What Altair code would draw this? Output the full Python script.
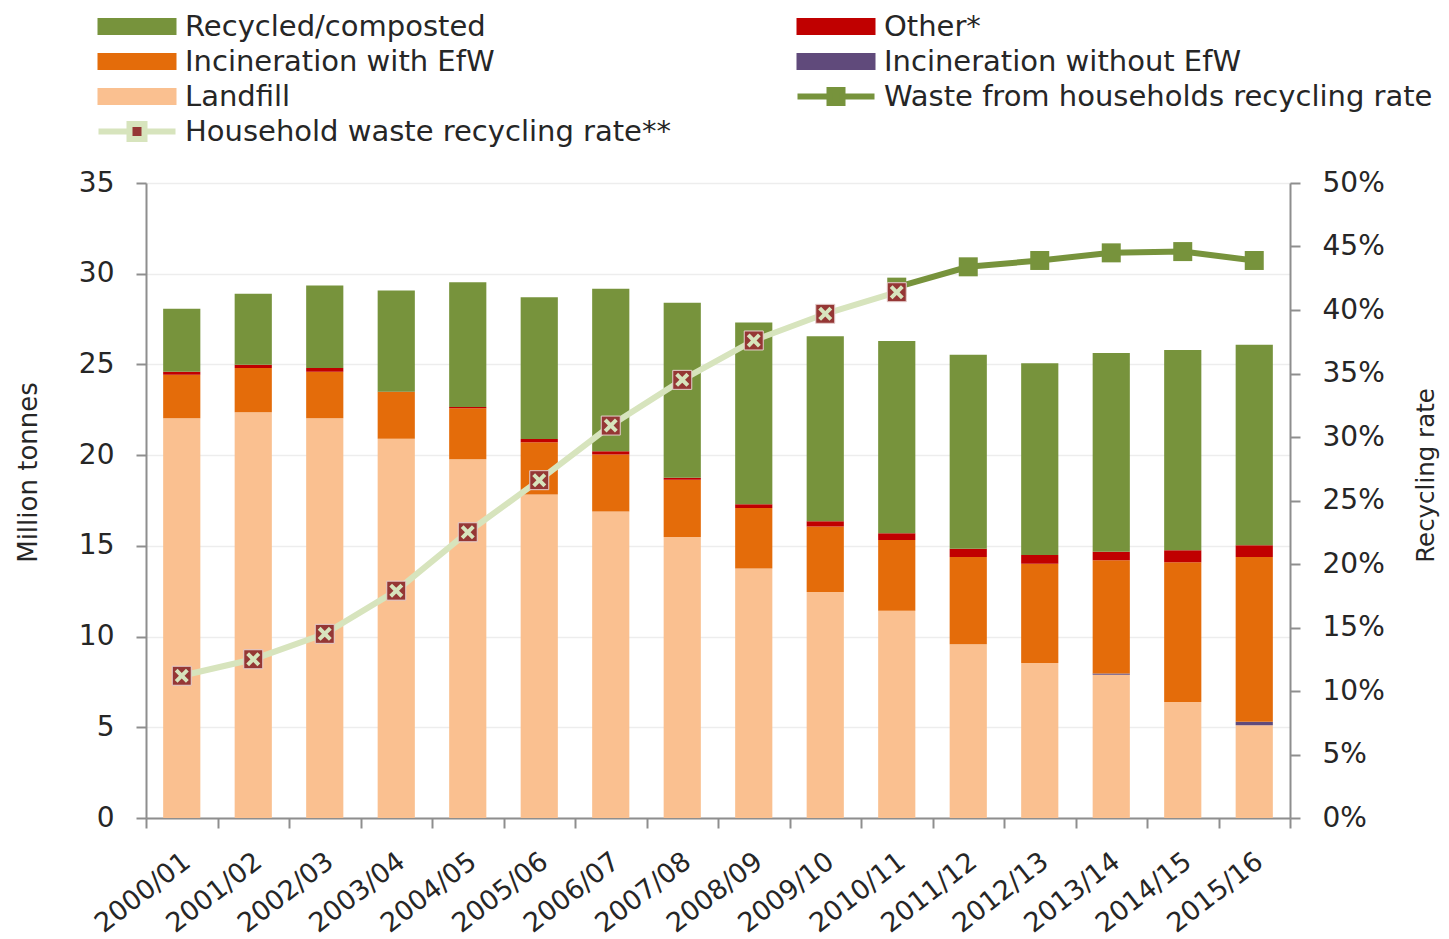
import altair as alt
import pandas as pd

# ---------------- data (million tonnes) ----------------
years = ["2000/01", "2001/02", "2002/03", "2003/04", "2004/05", "2005/06", "2006/07", "2007/08",
         "2008/09", "2009/10", "2010/11", "2011/12", "2012/13", "2013/14", "2014/15", "2015/16"]
landfill = [22.03, 22.36, 22.03, 20.90, 19.78, 17.83, 16.89, 15.49, 13.75, 12.46, 11.43, 9.57, 8.55, 7.89, 6.40, 5.11]
incin_without = [0, 0, 0, 0, 0, 0, 0, 0, 0, 0, 0, 0, 0, 0.08, 0, 0.19]
incin_efw = [2.40, 2.44, 2.57, 2.58, 2.80, 2.88, 3.15, 3.15, 3.33, 3.61, 3.89, 4.82, 5.47, 6.23, 7.70, 9.09]
other = [0.16, 0.18, 0.20, 0.02, 0.08, 0.18, 0.18, 0.12, 0.21, 0.29, 0.37, 0.45, 0.47, 0.48, 0.66, 0.64]
recycled = [3.48, 3.92, 4.55, 5.58, 6.87, 7.81, 8.95, 9.64, 10.02, 10.20, 10.60, 10.69, 10.58, 10.95, 11.04, 11.06]

# recycling rates (%)
hh_years = years[:11]
hh_rate = [11.2, 12.5, 14.5, 17.9, 22.5, 26.6, 30.9, 34.5, 37.6, 39.7, 41.4]
wfh_years = years[10:]
wfh_rate = [41.8, 43.4, 43.9, 44.5, 44.6, 43.9]

S_REC = "Recycled/composted"
S_OTH = "Other*"
S_EFW = "Incineration with EfW"
S_WO = "Incineration without EfW"
S_LAND = "Landfill"
S_WFH = "Waste from households recycling rate"
S_HH = "Household waste recycling rate**"

# legend entries, column by column
legend_order = [S_REC, S_EFW, S_LAND, S_HH, S_OTH, S_WO, S_WFH]
fill_colors = ["#77933C", "#E46C0A", "#FAC090", "#953735", "#C00000", "#604A7B", "#77933C"]
stroke_colors = ["transparent", "transparent", "transparent", "#D7E4BD", "transparent", "transparent", "#77933C"]

PATH_BAR = "M-1,-0.85H6.9V0.85H-1Z"
PATH_WFH = "M-0.9,0H2.3M3.6,0H6.8M2.3,-0.65H3.6V0.65H2.3Z"
PATH_HH = "M-0.9,0H2.2M3.7,0H6.8M2.2,-0.75H3.7V0.75H2.2Z"
shape_paths = [PATH_BAR, PATH_BAR, PATH_BAR, PATH_HH, PATH_BAR, PATH_BAR, PATH_WFH]

stack_series = [(S_LAND, landfill), (S_WO, incin_without), (S_EFW, incin_efw), (S_OTH, other), (S_REC, recycled)]
rows = []
for k, (name, vals) in enumerate(stack_series):
    for y, v in zip(years, vals):
        rows.append({"year": y, "series": name, "value": v, "ord": k})
bar_df = pd.DataFrame(rows)

hh_df = pd.DataFrame({"year": hh_years, "rate": [r / 100 for r in hh_rate], "series": S_HH})
wfh_df = pd.DataFrame({"year": wfh_years, "rate": [r / 100 for r in wfh_rate], "series": S_WFH})
rate_df = pd.concat([hh_df, wfh_df], ignore_index=True)

FONT = "DejaVu Sans"
TXT = "#262626"
AX = "#8E8E8E"

x_enc = alt.X("year:N", sort=years,
              scale=alt.Scale(paddingInner=0, paddingOuter=0),
              axis=alt.Axis(title=None, labelAngle=-38, labelAlign="right", labelBaseline="middle",
                            labelFont=FONT, labelFontSize=27, labelColor=TXT, labelPadding=30,
                            labelOffset=5, tickBand="extent", tickSize=10, tickColor=AX, tickWidth=2,
                            domainColor=AX, domainWidth=2, grid=False))
x_plain = alt.X("year:N", sort=years)

legend = alt.Legend(
    title=None, orient="none", legendX=-53, legendY=-171, columns=2,
    columnPadding=113, rowPadding=-10, padding=0,
    labelFont=FONT, labelFontSize=29, labelColor=TXT, labelLimit=1000,
    symbolSize=400, labelOffset=63, symbolStrokeWidth=6, symbolOpacity=1,
)

fill_scale = alt.Scale(domain=legend_order, range=fill_colors)
stroke_scale = alt.Scale(domain=legend_order, range=stroke_colors)
shape_scale = alt.Scale(domain=legend_order, range=shape_paths)

bars = alt.Chart(bar_df).mark_bar(width=alt.RelativeBandSize(0.52)).encode(
    x=x_enc,
    y=alt.Y("value:Q", stack="zero",
            scale=alt.Scale(domain=[0, 35], nice=False),
            axis=alt.Axis(title="Million tonnes", values=list(range(0, 40, 5)),
                          labelFont=FONT, labelFontSize=28, labelColor=TXT, labelPadding=22,
                          titleFont=FONT, titleFontSize=26, titleFontWeight="normal", titleColor=TXT,
                          titlePadding=37, titleY=289, tickSize=10, tickColor=AX, tickWidth=2,
                          domainColor=AX, domainWidth=2, grid=True, gridColor="#EDEDED", gridWidth=1.5)),
    fill=alt.Fill("series:N", scale=fill_scale, legend=legend),
    order=alt.Order("ord:Q", sort="ascending"),
)

y_rate = alt.Y("rate:Q", scale=alt.Scale(domain=[0, 0.5], nice=False),
               axis=alt.Axis(orient="right", title="Recycling rate", format=".0%",
                             values=[i / 100 for i in range(0, 55, 5)],
                             labelFont=FONT, labelFontSize=28, labelColor=TXT, labelPadding=22,
                             titleFont=FONT, titleFontSize=24.5, titleFontWeight="normal", titleColor=TXT,
                             titleAngle=270, titleBaseline="top", titlePadding=30, titleY=292,
                             tickSize=10, tickColor=AX, tickWidth=2,
                             domainColor=AX, domainWidth=2, grid=False))

X_PATH = "M-1,-0.6L-0.6,-1L0,-0.4L0.6,-1L1,-0.6L0.4,0L1,0.6L0.6,1L0,0.4L-0.6,1L-1,0.6L-0.4,0Z"

wfh_line = alt.Chart(wfh_df).mark_line(strokeWidth=6, color="#77933C").encode(x=x_plain, y=y_rate)
wfh_sq = alt.Chart(wfh_df).mark_point(shape="square", filled=True, size=361, opacity=1,
                                      color="#77933C", strokeWidth=0).encode(x=x_plain, y=y_rate)
hh_line = alt.Chart(hh_df).mark_line(strokeWidth=6, color="#D7E4BD").encode(x=x_plain, y=y_rate)
hh_sq = alt.Chart(hh_df).mark_point(shape="square", filled=True, size=361, opacity=1,
                                    color="#953735", stroke="#E6D0CF", strokeWidth=1).encode(x=x_plain, y=y_rate)
hh_x = alt.Chart(hh_df).mark_point(shape=X_PATH, filled=True, size=196, opacity=1,
                                   color="#D7E4BD", strokeWidth=0).encode(x=x_plain, y=y_rate)

# legend carrier for the two rate series (draws no marks)
legend_pts = alt.Chart(rate_df).transform_filter("false").mark_point(
    filled=True, opacity=1, strokeWidth=6).encode(
    x=x_plain, y=y_rate,
    fill=alt.Fill("series:N", scale=fill_scale, legend=legend),
    stroke=alt.Stroke("series:N", scale=stroke_scale, legend=legend),
    shape=alt.Shape("series:N", scale=shape_scale, legend=legend),
)

rates = alt.layer(wfh_line, wfh_sq, hh_line, hh_sq, hh_x, legend_pts)

chart = alt.layer(bars, rates).resolve_scale(y="independent").properties(
    width=1144, height=635,
    autosize=alt.AutoSizeParams(type="none"),
    padding={"left": 138, "top": 175, "right": 150, "bottom": 121},
).configure_view(strokeWidth=0).configure(background="white")

chart.save("out.html", embed_options={"renderer": "svg", "actions": False})
